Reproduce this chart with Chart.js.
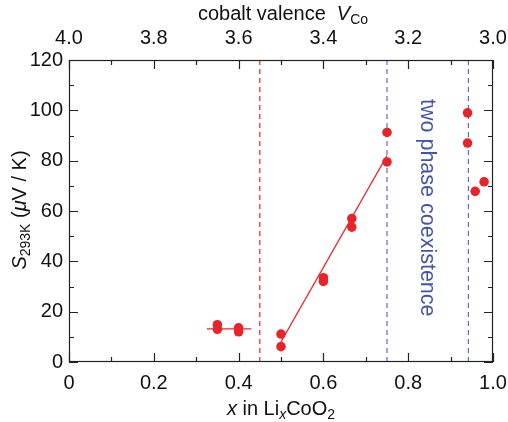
<!DOCTYPE html>
<html>
<head>
<meta charset="utf-8">
<script src="https://cdn.jsdelivr.net/npm/chart.js@4/dist/chart.umd.min.js"></script>
<style>
  html, body { margin: 0; padding: 0; background: #fff; }
  #wrap { width: 508px; height: 422px; }
</style>
</head>
<body>
<div id="wrap"><canvas id="seebeck"></canvas></div>
<script>
// measured S at 293 K vs Li content x
const sampleX = [0.35, 0.35, 0.4, 0.4, 0.5, 0.5, 0.6, 0.6, 0.667, 0.667, 0.75, 0.75, 0.94, 0.94, 0.958, 0.979];
const sampleS = [14.8, 13.0, 13.6, 12.0, 11.1, 6.1, 33.5, 32.0, 57.0, 53.6, 91.2, 79.5, 99.0, 87.0, 67.8, 71.6];

// guide lines drawn by hand in the figure
const flatX = [0.325, 0.43];
const flatS = [13.2, 13.2];
const slopeX = [0.5, 0.75];
const slopeS = [8.0, 82.0];

// vertical dashed boundaries
const redBoundaryX = 0.45;
const blueBoundaryX = [0.75, 0.942];

// tick labels
const xTicks = [0, 0.2, 0.4, 0.6, 0.8, 1.0];
const valenceTicks = [4.0, 3.8, 3.6, 3.4, 3.2, 3.0];
const yTicks = [0, 20, 40, 60, 80, 100, 120];

const RED = '#e8242b';
const BLUE = '#4353ad';
const BLUE_DASH = '#5b6fc2';
const FONT = '"Liberation Sans", Arial, sans-serif';

function pts(xs, ys) {
  return xs.map((x, i) => ({ x: x, y: ys[i] }));
}

function vline(x) {
  return [{ x: x, y: 0 }, { x: x, y: 120 }];
}

// draws text pieces centred on 0,0 ; italic and subscript pieces allowed
function richText(ctx, parts, size) {
  let w = 0;
  parts.forEach(p => {
    const s = p.sub ? size * 0.7 : size;
    ctx.font = (p.italic ? 'italic ' : '') + s + 'px ' + FONT;
    w += ctx.measureText(p.t).width;
  });
  let cx = -w / 2;
  parts.forEach(p => {
    const s = p.sub ? size * 0.7 : size;
    ctx.font = (p.italic ? 'italic ' : '') + s + 'px ' + FONT;
    ctx.fillText(p.t, cx, p.sub ? size * 0.3 : 0);
    cx += ctx.measureText(p.t).width;
  });
}

const framePlugin = {
  id: 'frame',
  afterDraw(chart) {
    const { ctx, chartArea: a, scales } = chart;
    const xs = scales.x, ys = scales.y, top = scales.x2;
    ctx.save();
    ctx.strokeStyle = '#222';
    ctx.lineWidth = 1.2;
    ctx.strokeRect(a.left + 0.5, a.top + 0.5, a.right - a.left - 1, a.bottom - a.top - 1);

    ctx.beginPath();
    // bottom x ticks, inward
    for (let v = 0; v <= 10; v++) {
      const px = Math.round(xs.getPixelForValue(v / 10)) + 0.5;
      const len = v % 2 === 0 ? 9 : 5;
      ctx.moveTo(px, a.bottom); ctx.lineTo(px, a.bottom - len);
    }
    // top valence ticks
    for (let v = 0; v <= 10; v++) {
      const px = Math.round(top.getPixelForValue(4 - v / 10)) + 0.5;
      const len = v % 2 === 0 ? 9 : 5;
      ctx.moveTo(px, a.top); ctx.lineTo(px, a.top + len);
    }
    // left and right y ticks
    for (let v = 0; v <= 120; v += 10) {
      const py = Math.round(ys.getPixelForValue(v)) + 0.5;
      const len = v % 20 === 0 ? 9 : 5;
      ctx.moveTo(a.left, py); ctx.lineTo(a.left + len, py);
      ctx.moveTo(a.right, py); ctx.lineTo(a.right - len, py);
    }
    ctx.stroke();

    // axis titles
    ctx.fillStyle = '#111';
    ctx.textBaseline = 'middle';
    ctx.textAlign = 'left';

    ctx.save();
    ctx.translate((a.left + a.right) / 2 + 0, 409);
    richText(ctx, [
      { t: 'x', italic: true }, { t: ' in Li' }, { t: 'x', italic: true, sub: true },
      { t: 'CoO' }, { t: '2', sub: true }
    ], 20);
    ctx.restore();

    ctx.save();
    ctx.translate((a.left + a.right) / 2 + 2, 14);
    richText(ctx, [
      { t: 'cobalt valence  ' }, { t: 'V', italic: true }, { t: 'Co', sub: true }
    ], 20);
    ctx.restore();

    ctx.save();
    ctx.translate(20, 210);
    ctx.rotate(-Math.PI / 2);
    richText(ctx, [
      { t: 'S', italic: true }, { t: '293K', sub: true }, { t: ' (' },
      { t: 'μ', italic: true }, { t: 'V / K)' }
    ], 20);
    ctx.restore();

    // two phase label
    ctx.save();
    ctx.fillStyle = BLUE;
    ctx.translate(xs.getPixelForValue(0.845), ys.getPixelForValue(104.5));
    ctx.rotate(Math.PI / 2);
    ctx.font = '21.5px ' + FONT;
    ctx.textAlign = 'left';
    ctx.fillText('two phase coexistence', 0, 0);
    ctx.restore();

    ctx.restore();
  }
};

const tickFont = { family: FONT, size: 20 };

new Chart(document.getElementById('seebeck'), {
  type: 'scatter',
  data: {
    datasets: [
      {
        label: 'S293K',
        data: pts(sampleX, sampleS),
        backgroundColor: RED,
        borderColor: RED,
        pointRadius: 4.8,
        pointHoverRadius: 4.8,
        borderWidth: 0,
        order: 0
      },
      {
        label: 'flat',
        data: pts(flatX, flatS),
        showLine: true,
        borderColor: RED,
        borderWidth: 1.2,
        pointRadius: 0,
        order: 1
      },
      {
        label: 'slope',
        data: pts(slopeX, slopeS),
        showLine: true,
        borderColor: RED,
        borderWidth: 1.2,
        pointRadius: 0,
        order: 1
      },
      {
        label: 'red boundary',
        data: vline(redBoundaryX),
        showLine: true,
        borderColor: RED,
        borderWidth: 1.2,
        borderDash: [5, 4],
        pointRadius: 0,
        order: 2
      },
      ...blueBoundaryX.map(x => ({
        label: 'blue boundary',
        data: vline(x),
        showLine: true,
        borderColor: BLUE_DASH,
        borderWidth: 1.2,
        borderDash: [5, 4],
        pointRadius: 0,
        order: 2
      }))
    ]
  },
  options: {
    responsive: true,
    maintainAspectRatio: false,
    animation: false,
    layout: { padding: 0 },
    plugins: {
      legend: { display: false },
      tooltip: { enabled: false }
    },
    scales: {
      x: {
        type: 'linear',
        position: 'bottom',
        min: 0,
        max: 1,
        afterBuildTicks: s => { s.ticks = xTicks.map(v => ({ value: v })); },
        afterFit: s => { s.height = 60; s.paddingLeft = 0; s.paddingRight = 0; },
        grid: { display: false, drawTicks: false },
        border: { display: false },
        ticks: {
          padding: 9,
          color: '#111',
          font: tickFont,
          maxRotation: 0,
          callback: v => (v === 0 ? '0' : v.toFixed(1))
        }
      },
      x2: {
        type: 'linear',
        position: 'top',
        min: 3,
        max: 4,
        reverse: true,
        afterBuildTicks: s => { s.ticks = valenceTicks.map(v => ({ value: v })); },
        afterFit: s => { s.height = 60; s.paddingLeft = 0; s.paddingRight = 0; },
        grid: { display: false, drawTicks: false },
        border: { display: false },
        ticks: {
          padding: 10,
          color: '#111',
          font: tickFont,
          maxRotation: 0,
          callback: v => v.toFixed(1)
        }
      },
      y: {
        type: 'linear',
        position: 'left',
        min: 0,
        max: 120,
        afterBuildTicks: s => { s.ticks = yTicks.map(v => ({ value: v })); },
        afterFit: s => { s.width = 69; s.paddingTop = 0; s.paddingBottom = 0; },
        grid: { display: false, drawTicks: false },
        border: { display: false },
        ticks: {
          padding: 6,
          color: '#111',
          font: tickFont
        }
      },
      y2: {
        type: 'linear',
        position: 'right',
        min: 0,
        max: 120,
        afterFit: s => { s.width = 15; s.paddingTop = 0; s.paddingBottom = 0; },
        grid: { display: false, drawTicks: false },
        border: { display: false },
        ticks: { display: false }
      }
    }
  },
  plugins: [framePlugin]
});
</script>
</body>
</html>
